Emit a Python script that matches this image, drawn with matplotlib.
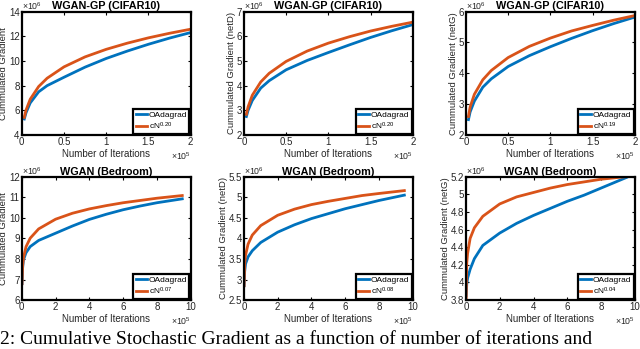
import matplotlib
matplotlib.use("Agg")
import matplotlib.pyplot as plt
from matplotlib.ticker import FuncFormatter

plt.rcParams["font.family"] = ["Liberation Sans", "DejaVu Sans"]
plt.rcParams["mathtext.default"] = "regular"

BLUE = "#0072BD"
ORANGE = "#D95319"
GRAY = "#262626"

# iterations (x1e5), cumulated gradient (x1e6)
x_cifar = [0.03, 0.05, 0.1, 0.2, 0.3, 0.5, 0.75, 1.0, 1.25, 1.5, 1.75, 2.0]
x_bed = [0.015, 0.05, 0.1, 0.25, 0.5, 1, 2, 3, 4, 5, 6, 7, 8, 9.5]

# WGAN-GP (CIFAR10)
cifar_all_oada = [5.30, 5.80, 6.60, 7.50, 8.00, 8.68, 9.50, 10.20, 10.80, 11.35, 11.85, 12.30]
cifar_all_fit = [5.43, 6.01, 6.90, 7.93, 8.60, 9.52, 10.33, 10.94, 11.44, 11.87, 12.24, 12.57]
cifar_d_oada = [2.75, 3.00, 3.40, 3.90, 4.20, 4.64, 5.02, 5.34, 5.65, 5.95, 6.22, 6.47]
cifar_d_fit = [2.84, 3.14, 3.61, 4.15, 4.50, 4.98, 5.40, 5.72, 5.98, 6.21, 6.40, 6.57]
cifar_g_oada = [2.50, 2.75, 3.10, 3.55, 3.82, 4.22, 4.57, 4.86, 5.13, 5.38, 5.61, 5.82]
cifar_g_fit = [2.60, 2.91, 3.32, 3.79, 4.09, 4.51, 4.87, 5.14, 5.37, 5.55, 5.72, 5.87]

# WGAN (Bedroom)
bed_all_oada = [6.80, 7.55, 7.95, 8.30, 8.60, 8.90, 9.25, 9.60, 9.92, 10.17, 10.39, 10.57, 10.73, 10.92]
bed_all_fit = [6.80, 7.67, 8.05, 8.59, 9.01, 9.46, 9.93, 10.22, 10.43, 10.59, 10.73, 10.84, 10.95, 11.08]
bed_d_oada = [2.85, 3.20, 3.38, 3.55, 3.70, 3.90, 4.15, 4.33, 4.48, 4.60, 4.72, 4.82, 4.92, 5.05]
bed_d_fit = [2.85, 3.39, 3.59, 3.86, 4.08, 4.31, 4.56, 4.71, 4.82, 4.90, 4.97, 5.04, 5.09, 5.16]
bed_g_oada = [3.85, 3.98, 4.05, 4.15, 4.27, 4.42, 4.56, 4.67, 4.76, 4.84, 4.92, 4.99, 5.07, 5.19]
bed_g_fit = [3.82, 4.22, 4.33, 4.50, 4.62, 4.75, 4.89, 4.97, 5.02, 5.07, 5.11, 5.14, 5.17, 5.20]

panels = [
    ("WGAN-GP (CIFAR10)", "Cummulated Gradient", x_cifar, cifar_all_oada, cifar_all_fit,
     "0.20", [0, 0.5, 1, 1.5, 2], [4, 6, 8, 10, 12, 14]),
    ("WGAN-GP (CIFAR10)", "Cummulated Gradient (netD)", x_cifar, cifar_d_oada, cifar_d_fit,
     "0.20", [0, 0.5, 1, 1.5, 2], [2, 3, 4, 5, 6, 7]),
    ("WGAN-GP (CIFAR10)", "Cummulated Gradient (netG)", x_cifar, cifar_g_oada, cifar_g_fit,
     "0.19", [0, 0.5, 1, 1.5, 2], [2, 3, 4, 5, 6]),
    ("WGAN (Bedroom)", "Cummulated Gradient", x_bed, bed_all_oada, bed_all_fit,
     "0.07", [0, 2, 4, 6, 8, 10], [6, 7, 8, 9, 10, 11, 12]),
    ("WGAN (Bedroom)", "Cummulated Gradient (netD)", x_bed, bed_d_oada, bed_d_fit,
     "0.08", [0, 2, 4, 6, 8, 10], [2.5, 3, 3.5, 4, 4.5, 5, 5.5]),
    ("WGAN (Bedroom)", "Cummulated Gradient (netG)", x_bed, bed_g_oada, bed_g_fit,
     "0.04", [0, 2, 4, 6, 8, 10], [3.8, 4, 4.2, 4.4, 4.6, 4.8, 5, 5.2]),
]

fig = plt.figure(figsize=(6.4, 3.49), dpi=100)

lefts = [0.034, 0.381, 0.728]
bottoms = [0.613, 0.140]
w, h = 0.264, 0.354

fmt = FuncFormatter(lambda v, _: f"{v:g}")

for i, (title, ylabel, x, y_oada, y_fit, p, xt, yt) in enumerate(panels):
    ax = fig.add_axes([lefts[i % 3], bottoms[i // 3], w, h])
    ax.plot(x, y_oada, color=BLUE, lw=2, label="OAdagrad")
    ax.plot(x, y_fit, color=ORANGE, lw=2, label=f"cN$^{{{p}}}$")
    ax.set_xlim(xt[0], xt[-1])
    ax.set_ylim(yt[0], yt[-1])
    ax.set_xticks(xt)
    ax.set_yticks(yt)
    ax.xaxis.set_major_formatter(fmt)
    ax.yaxis.set_major_formatter(fmt)
    ax.tick_params(direction="in", top=True, right=True, length=2.5, width=0.8,
                   labelsize=7, labelcolor=GRAY, pad=1.5)
    for s in ax.spines.values():
        s.set_linewidth(1.6)
        s.set_color("black")
    ax.set_title(title, fontsize=7.8, fontweight="bold", pad=1.5)
    ax.set_xlabel("Number of Iterations", fontsize=7, color=GRAY, labelpad=1)
    ax.set_ylabel(ylabel, fontsize=6.8, color=GRAY, labelpad=0.5)
    ax.text(0.0, 1.0, r"$\times10^{6}$", transform=ax.transAxes, fontsize=6.3,
            color=GRAY, ha="left", va="bottom")
    ax.text(1.0, -0.12, r"$\times10^{5}$", transform=ax.transAxes, fontsize=6.3,
            color=GRAY, ha="right", va="top")
    leg = ax.legend(loc="lower right", fontsize=6, handlelength=1.4, handletextpad=0.2,
                    borderpad=0.25, labelspacing=0.2, borderaxespad=0.15,
                    fancybox=False, framealpha=1, edgecolor="black")
    leg.get_frame().set_linewidth(1.6)

fig.text(0.0, 0.004, "2: Cumulative Stochastic Gradient as a function of number of iterations and",
         fontsize=14, family="Liberation Serif", ha="left", va="bottom")

fig.savefig("out.png", dpi=100)
